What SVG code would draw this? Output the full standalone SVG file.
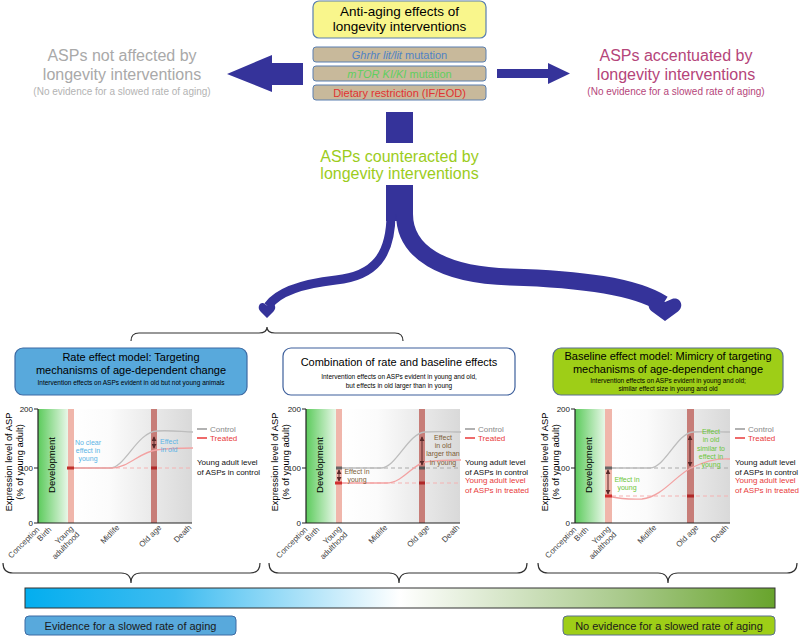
<svg xmlns="http://www.w3.org/2000/svg" xmlns:xlink="http://www.w3.org/1999/xlink" width="799" height="636" viewBox="0 0 799 636">
<style>
text{font-family:"Liberation Sans",Arial,sans-serif;}
.big{font-size:16px;}
.mid{font-size:11px;}
.sm{font-size:6.5px;}
.tiny{font-size:7px;}
.ax{font-size:8px;fill:#222;}
.xl{font-size:8px;fill:#444;}
.lg{font-size:8px;}
.dev{font-size:9.5px;text-anchor:middle;}
.ctr{text-anchor:middle;}
.arw{fill:#35339a;}
.axis{fill:none;stroke:#222;stroke-width:1.2;}
.ctl{fill:none;stroke:#bdbdbd;stroke-width:1.3;}
.trt{fill:none;stroke:#f3a2a2;stroke-width:1.3;}
.dg{fill:none;stroke:#aaa;stroke-width:1;stroke-dasharray:4 3;}
.dr{fill:none;stroke:#f4b2b2;stroke-width:1;stroke-dasharray:4 3;}
.dbl{fill:none;stroke:#5a2a2a;stroke-width:1;marker-start:url(#ah);marker-end:url(#ah);}
.brace{fill:none;stroke:#333;stroke-width:1.2;}
</style>
<defs>
<marker id="ah" viewBox="0 0 6 6" refX="5" refY="3" markerWidth="5" markerHeight="5" orient="auto-start-reverse">
<path d="M0 0 L6 3 L0 6 Z" fill="#5a2a2a"/>
</marker>
<linearGradient id="bgG" x1="0" x2="1" y1="0" y2="0">
<stop offset="0" stop-color="#ffffff"/><stop offset="0.3" stop-color="#fbfbfb"/><stop offset="1" stop-color="#d9d9d9"/>
</linearGradient>
<linearGradient id="devG" x1="0" x2="1" y1="0" y2="0">
<stop offset="0" stop-color="#5ccb5c"/><stop offset="1" stop-color="#e8f7e8"/>
</linearGradient>
<linearGradient id="barG" x1="0" x2="1" y1="0" y2="0">
<stop offset="0" stop-color="#03aeef"/><stop offset="0.2" stop-color="#3fbcf0"/><stop offset="0.5" stop-color="#ffffff"/><stop offset="0.8" stop-color="#a8c98a"/><stop offset="1" stop-color="#68a42c"/>
</linearGradient>
</defs>

<g id="top-box">
<rect x="313" y="1" width="173" height="37" rx="6" fill="#f9f68c" stroke="#5a7fb0" stroke-width="1.2"/>
<text x="399.5" y="16" class="ctr" font-size="13.5">Anti-aging effects of</text>
<text x="399.5" y="31" class="ctr" font-size="13.5">longevity interventions</text>
</g>
<g id="ghrhr">
<rect x="313" y="47" width="173" height="15" rx="3" fill="#c8b99b" stroke="#5a7fb0" stroke-width="1"/>
<text x="399.5" y="58.5" class="ctr mid" fill="#4f82c4"><tspan font-style="italic">Ghrhr lit/lit</tspan> mutation</text>
</g>
<g id="mtor">
<rect x="313" y="66" width="173" height="15" rx="3" fill="#c8b99b" stroke="#5a7fb0" stroke-width="1"/>
<text x="399.5" y="77.5" class="ctr mid" fill="#5fcf5f"><tspan font-style="italic">mTOR KI/KI</tspan> mutation</text>
</g>
<g id="dr">
<rect x="313" y="85" width="173" height="15" rx="3" fill="#c8b99b" stroke="#5a7fb0" stroke-width="1"/>
<text x="399.5" y="96.5" class="ctr mid" fill="#e03232">Dietary restriction (IF/EOD)</text>
</g>

<g id="not-affected">
<text x="122" y="61" class="ctr big" fill="#a9a9a9">ASPs not affected by</text>
<text x="122" y="80" class="ctr big" fill="#a9a9a9">longevity interventions</text>
<text x="122" y="95" class="ctr" font-size="10" fill="#b3b3b3">(No evidence for a slowed rate of aging)</text>
</g>
<g id="accentuated">
<text x="676" y="61" class="ctr big" fill="#b5457a">ASPs accentuated by</text>
<text x="676" y="80" class="ctr big" fill="#b5457a">longevity interventions</text>
<text x="676" y="95" class="ctr" font-size="10" fill="#b5457a">(No evidence for a slowed rate of aging)</text>
</g>
<g id="counteracted">
<text x="399.5" y="162" class="ctr big" fill="#9ccc1c">ASPs counteracted by</text>
<text x="399.5" y="179" class="ctr big" fill="#9ccc1c">longevity interventions</text>
</g>

<g id="connectors">
<polygon class="arw" points="303,63 272,63 272,55 227,74 272,92 272,85 303,85"/>
<polygon class="arw" points="497,69 548,69 548,63 570,73.5 548,84 548,78 497,78"/>
<rect class="arw" x="386" y="112" width="27" height="31"/>
<rect class="arw" x="386" y="185" width="27" height="36"/>
<path d="M391 214 C391 255 375 276 336 280 C300 284 278 292 268 306" fill="none" stroke="#35339a" stroke-width="9"/>
<path d="M404.5 214 C404.5 252 442 275 510 277 C580 279 635 286 663 304" fill="none" stroke="#35339a" stroke-width="17"/>
<path class="arw" d="M267 318 L260.5 311.5 C256.5 307.5 260 301.5 264 303.5 L267 305.5 L270 303.5 C274 301.5 277.5 307.5 273.5 311.5 Z"/>
<path class="arw" d="M665 321 L652 311.5 C645 306 650 296.5 658 299 L665 302 L672 299 C680 296.5 685 306 678 311.5 Z"/>
<path class="brace" d="M131 341 Q131 333 139 333 L259 333 Q267 333 267 327 Q267 333 275 333 L395 333 Q403 333 403 341"/>
<path class="brace" d="M3 563 Q3 573 13 573 L121 573 Q131 573 131 583 Q131 573 141 573 L250 573 Q260 573 260 563"/>
<path class="brace" d="M269 563 Q269 573 279 573 L389 573 Q399 573 399 583 Q399 573 409 573 L517 573 Q527 573 527 563"/>
<path class="brace" d="M538 563 Q538 573 548 573 L658 573 Q668 573 668 583 Q668 573 678 573 L787 573 Q797 573 797 563"/>
</g>

<g id="rate-box">
<rect x="15" y="348" width="232" height="47" rx="8" fill="#58a9dc" stroke="#3d6aa3" stroke-width="1.2"/>
<text x="131" y="361" class="ctr mid">Rate effect model: Targeting</text>
<text x="131" y="373.5" class="ctr mid">mechanisms of age-dependent change</text>
<text x="131" y="385" class="ctr sm">Intervention effects on ASPs evident in old but not young animals</text>
</g>
<g id="combo-box">
<rect x="283" y="348" width="232" height="47" rx="8" fill="#ffffff" stroke="#3d5f9c" stroke-width="1.2"/>
<text x="399" y="366" class="ctr mid">Combination of rate and baseline effects</text>
<text x="399" y="379" class="ctr sm">Intervention effects on ASPs evident in young and old,</text>
<text x="399" y="388" class="ctr sm">but effects in old larger than in young</text>
</g>
<g id="baseline-box">
<rect x="553" y="348" width="230" height="47" rx="8" fill="#9ece17" stroke="#5a6f8f" stroke-width="1.2"/>
<text x="668" y="360" class="ctr mid">Baseline effect model: Mimicry of targeting</text>
<text x="668" y="373" class="ctr mid">mechanisms of age-dependent change</text>
<text x="668" y="382.5" class="ctr sm">Intervention effects on ASPs evident in young and old;</text>
<text x="668" y="390.5" class="ctr sm">similar effect size in young and old</text>
</g>

<!-- Panel 1 chart -->
<g id="chart-rate">
<rect x="74" y="409" width="118" height="114" fill="url(#bgG)"/>
<rect x="38" y="409" width="30" height="114" fill="url(#devG)"/>
<rect x="68" y="409" width="6" height="114" fill="#f0b6ab"/>
<rect x="151" y="409" width="6" height="114" fill="#c77d78"/>
<text transform="translate(55,465) rotate(-90)" class="dev">Development</text>
<path class="axis" d="M38 409 V523 H192 M34 409 H38 M34 468 H38 M34 523 H38"/>
<text x="33" y="412" class="ax" text-anchor="end">200</text>
<text x="33" y="471" class="ax" text-anchor="end">100</text>
<text x="33" y="526" class="ax" text-anchor="end">0</text>
<text transform="translate(12,462) rotate(-90)" class="ctr" font-size="9.3">Expression level of ASP</text>
<text transform="translate(23,462) rotate(-90)" class="ctr" font-size="9.3">(% of young adult)</text>
<text transform="translate(40,530) rotate(-45)" class="xl" text-anchor="end">Conception</text>
<text transform="translate(52,530) rotate(-45)" class="xl" text-anchor="end">Birth</text>
<text transform="translate(74,529) rotate(-45)" class="xl" text-anchor="end">Young</text>
<text transform="translate(80,535) rotate(-45)" class="xl" text-anchor="end">adulthood</text>
<text transform="translate(120,528) rotate(-45)" class="xl" text-anchor="end">Midlife</text>
<text transform="translate(162,528) rotate(-45)" class="xl" text-anchor="end">Old age</text>
<text transform="translate(192,528) rotate(-45)" class="xl" text-anchor="end">Death</text>
<path class="dr" d="M74 468 H192"/>
<path class="ctl" d="M71 468 L110 468 C125 468 137 432 157 431 C172 430 183 432 193 432"/>
<path class="trt" d="M71 468 L112 468 C128 468 140 452 156 450 C170 448 183 448 193 448"/>
<rect x="67" y="466.5" width="7" height="3" fill="#c0302a"/>
<rect x="151" y="466.5" width="6" height="3" fill="#b02828"/>
<path class="dbl" d="M154 437 V448"/>
<text x="88" y="445" class="ctr tiny" fill="#5ab4e6">No clear</text>
<text x="88" y="453" class="ctr tiny" fill="#5ab4e6">effect in</text>
<text x="88" y="461" class="ctr tiny" fill="#5ab4e6">young</text>
<text x="169" y="444" class="ctr tiny" fill="#5ab4e6">Effect</text>
<text x="169" y="452" class="ctr tiny" fill="#5ab4e6">in old</text>
<path d="M197 429 H207" stroke="#999" stroke-width="1.5"/>
<text x="210" y="432" class="lg" fill="#888">Control</text>
<path d="M197 438 H207" stroke="#e83a3a" stroke-width="1.5"/>
<text x="210" y="441" class="lg" fill="#e83a3a">Treated</text>
<text x="197" y="465" class="lg" fill="#111">Young adult level</text>
<text x="197" y="475" class="lg" fill="#111">of ASPs in control</text>
</g>

<!-- Panel 2 chart -->
<g id="chart-combo" transform="translate(268,0)">
<rect x="74" y="409" width="118" height="114" fill="url(#bgG)"/>
<rect x="38" y="409" width="30" height="114" fill="url(#devG)"/>
<rect x="68" y="409" width="6" height="114" fill="#f0b6ab"/>
<rect x="151" y="409" width="6" height="114" fill="#c77d78"/>
<text transform="translate(55,465) rotate(-90)" class="dev">Development</text>
<path class="axis" d="M38 409 V523 H192 M34 409 H38 M34 468 H38 M34 523 H38"/>
<text x="33" y="412" class="ax" text-anchor="end">200</text>
<text x="33" y="471" class="ax" text-anchor="end">100</text>
<text x="33" y="526" class="ax" text-anchor="end">0</text>
<text transform="translate(10,462) rotate(-90)" class="ctr" font-size="9.3">Expression level of ASP</text>
<text transform="translate(21,462) rotate(-90)" class="ctr" font-size="9.3">(% of young adult)</text>
<text transform="translate(40,530) rotate(-45)" class="xl" text-anchor="end">Conception</text>
<text transform="translate(52,530) rotate(-45)" class="xl" text-anchor="end">Birth</text>
<text transform="translate(74,529) rotate(-45)" class="xl" text-anchor="end">Young</text>
<text transform="translate(80,535) rotate(-45)" class="xl" text-anchor="end">adulthood</text>
<text transform="translate(120,528) rotate(-45)" class="xl" text-anchor="end">Midlife</text>
<text transform="translate(162,528) rotate(-45)" class="xl" text-anchor="end">Old age</text>
<text transform="translate(192,528) rotate(-45)" class="xl" text-anchor="end">Death</text>
<path class="dg" d="M74 468 H192"/>
<path class="dr" d="M74 483 H192"/>
<path class="ctl" d="M71 468 L113 468 C128 468 140 433 157 432 C172 431 183 432 193 432"/>
<path class="trt" d="M71 483 L118 483 C135 483 145 464 157 462 C170 460 183 460 193 460"/>
<rect x="68" y="466.5" width="6" height="3" fill="#666"/>
<rect x="67" y="481.5" width="7" height="3" fill="#d03030"/>
<rect x="151" y="466.5" width="6" height="3" fill="#555"/>
<rect x="151" y="481.5" width="6" height="3" fill="#b02828"/>
<path class="dbl" d="M71 470 V481"/>
<path class="dbl" d="M154 437 V465"/>
<text x="89" y="474" class="ctr tiny" fill="#7d5d36">Effect in</text>
<text x="89" y="482" class="ctr tiny" fill="#7d5d36">young</text>
<text x="175" y="440" class="ctr tiny" fill="#7d5d36">Effect</text>
<text x="175" y="448" class="ctr tiny" fill="#7d5d36">in old</text>
<text x="175" y="456" class="ctr tiny" fill="#7d5d36">larger than</text>
<text x="175" y="465" class="ctr tiny" fill="#7d5d36">in young</text>
<path d="M197 429 H207" stroke="#999" stroke-width="1.5"/>
<text x="210" y="432" class="lg" fill="#888">Control</text>
<path d="M197 438 H207" stroke="#e83a3a" stroke-width="1.5"/>
<text x="210" y="441" class="lg" fill="#e83a3a">Treated</text>
<text x="197" y="465" class="lg" fill="#111">Young adult level</text>
<text x="197" y="475" class="lg" fill="#111">of ASPs in control</text>
<text x="197" y="483" class="lg" fill="#e83a3a">Young adult level</text>
<text x="197" y="493" class="lg" fill="#e83a3a">of ASPs in treated</text>
</g>

<!-- Panel 3 chart -->
<g id="chart-baseline" transform="translate(537,0)">
<rect x="74" y="409" width="119" height="114" fill="url(#bgG)"/>
<rect x="38" y="409" width="30" height="114" fill="url(#devG)"/>
<rect x="68" y="409" width="7" height="114" fill="#f0b6ab"/>
<rect x="150" y="409" width="7" height="114" fill="#c77d78"/>
<text transform="translate(55,465) rotate(-90)" class="dev">Development</text>
<path class="axis" d="M38 409 V523 H193 M34 409 H38 M34 468 H38 M34 523 H38"/>
<text x="33" y="412" class="ax" text-anchor="end">200</text>
<text x="33" y="471" class="ax" text-anchor="end">100</text>
<text x="33" y="526" class="ax" text-anchor="end">0</text>
<text transform="translate(11,462) rotate(-90)" class="ctr" font-size="9.3">Expression level of ASP</text>
<text transform="translate(22,462) rotate(-90)" class="ctr" font-size="9.3">(% of young adult)</text>
<text transform="translate(40,530) rotate(-45)" class="xl" text-anchor="end">Conception</text>
<text transform="translate(52,530) rotate(-45)" class="xl" text-anchor="end">Birth</text>
<text transform="translate(74,529) rotate(-45)" class="xl" text-anchor="end">Young</text>
<text transform="translate(80,535) rotate(-45)" class="xl" text-anchor="end">adulthood</text>
<text transform="translate(120,528) rotate(-45)" class="xl" text-anchor="end">Midlife</text>
<text transform="translate(162,528) rotate(-45)" class="xl" text-anchor="end">Old age</text>
<text transform="translate(192,528) rotate(-45)" class="xl" text-anchor="end">Death</text>
<path class="dg" d="M75 468 H193"/>
<path class="dr" d="M75 496 H193"/>
<path class="ctl" d="M71 468 L113 468 C128 468 140 433 156 432 C172 431 183 432 193 432"/>
<path class="trt" d="M71 496 C80 498 90 500 105 499 C125 497 138 476 154 468 C168 461 182 458 193 459"/>
<rect x="68" y="466.5" width="7" height="3" fill="#666"/>
<rect x="68" y="494.5" width="7" height="3" fill="#d03030"/>
<rect x="150" y="494.5" width="7" height="3" fill="#b02828"/>
<path class="dbl" d="M71 470 V494"/>
<path class="dbl" d="M153 436 V466"/>
<text x="90" y="482" class="ctr tiny" fill="#6cc63a">Effect in</text>
<text x="90" y="490" class="ctr tiny" fill="#6cc63a">young</text>
<text x="174" y="434" class="ctr tiny" fill="#6cc63a">Effect</text>
<text x="174" y="442" class="ctr tiny" fill="#6cc63a">in old</text>
<text x="174" y="451" class="ctr tiny" fill="#6cc63a">similar to</text>
<text x="174" y="459" class="ctr tiny" fill="#6cc63a">effect in</text>
<text x="174" y="467" class="ctr tiny" fill="#6cc63a">young</text>
<path d="M198 429 H208" stroke="#999" stroke-width="1.5"/>
<text x="211" y="432" class="lg" fill="#888">Control</text>
<path d="M198 438 H208" stroke="#e83a3a" stroke-width="1.5"/>
<text x="211" y="441" class="lg" fill="#e83a3a">Treated</text>
<text x="198" y="465" class="lg" fill="#111">Young adult level</text>
<text x="198" y="475" class="lg" fill="#111">of ASPs in control</text>
<text x="198" y="483" class="lg" fill="#e83a3a">Young adult level</text>
<text x="198" y="493" class="lg" fill="#e83a3a">of ASPs in treated</text>
</g>

<g id="gradient-bar">
<rect x="25" y="588" width="750" height="20" fill="url(#barG)" stroke="#333" stroke-width="1"/>
</g>
<g id="evidence">
<rect x="25" y="616" width="211" height="19" rx="4" fill="#58a9dc" stroke="#3d6aa3" stroke-width="1"/>
<text x="130.5" y="629.5" class="ctr mid" fill="#1a1a1a">Evidence for a slowed rate of aging</text>
</g>
<g id="no-evidence">
<rect x="563" y="616" width="212" height="19" rx="4" fill="#9ece17" stroke="#5a6f8f" stroke-width="1"/>
<text x="669" y="629.5" class="ctr mid" fill="#1a1a1a">No evidence for a slowed rate of aging</text>
</g>
</svg>
